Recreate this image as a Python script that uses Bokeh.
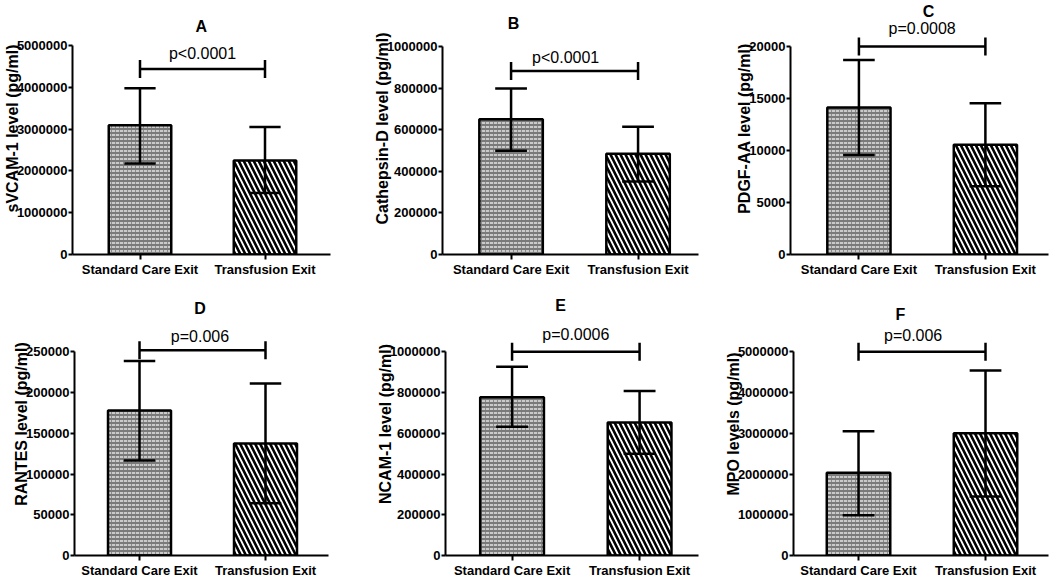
import math
from bokeh.plotting import figure
from bokeh.layouts import column, row
from bokeh.models import FixedTicker, BasicTickFormatter, Label, Range1d
from bokeh.embed import file_html
from bokeh.resources import INLINE

# ---------------- data ----------------
groups = ["Standard Care Exit", "Transfusion Exit"]
panel_letters = ["A", "B", "C", "D", "E", "F"]
y_labels = ["sVCAM-1 level (pg/ml)", "Cathepsin-D level (pg/ml)", "PDGF-AA level (pg/ml)",
            "RANTES level (pg/ml)", "NCAM-1 level (pg/ml)", "MPO levels (pg/ml)"]
p_values = ["p<0.0001", "p<0.0001", "p=0.0008", "p=0.006", "p=0.0006", "p=0.006"]

svcam_mean = [3090000, 2250000]
svcam_upper = [3980000, 3050000]
svcam_lower = [2180000, 1470000]
svcam_ticks = [0, 1000000, 2000000, 3000000, 4000000, 5000000]

cathepsin_mean = [651000, 484000]
cathepsin_upper = [798000, 614000]
cathepsin_lower = [499000, 351000]
cathepsin_ticks = [0, 200000, 400000, 600000, 800000, 1000000]

pdgf_mean = [14150, 10560]
pdgf_upper = [18720, 14560]
pdgf_lower = [9570, 6560]
pdgf_ticks = [0, 5000, 10000, 15000, 20000]

rantes_mean = [178000, 137400]
rantes_upper = [238600, 211000]
rantes_lower = [116700, 64200]
rantes_ticks = [0, 50000, 100000, 150000, 200000, 250000]

ncam_mean = [777000, 653000]
ncam_upper = [927000, 808000]
ncam_lower = [632000, 500000]
ncam_ticks = [0, 200000, 400000, 600000, 800000, 1000000]

mpo_mean = [2030000, 3000000]
mpo_upper = [3050000, 4540000]
mpo_lower = [985000, 1450000]
mpo_ticks = [0, 1000000, 2000000, 3000000, 4000000, 5000000]

bracket_y = [4440000, 883000, 20000, 252000, 1000000, 5000000]

# annotation positions (data units)
title_x = [1.49, 1.02, 1.55, 1.48, 1.38, 1.33]
title_y = [5455000, 1110000, 23400, 303700, 1228000, 5920000]
ptext_x = [1.5, 1.43, 1.5, 1.48, 1.5, 1.43]
ptext_y = [4810000, 947000, 21730, 268300, 1087000, 5410000]

FONT = "Liberation Sans"


def make_panel(i, mean, upper, lower, yticks, width, height, bl, br, bb, xr, yfactor):
    top = yticks[-1]
    p = figure(width=width, height=height, output_backend="svg", toolbar_location=None,
               x_range=Range1d(*xr), y_range=Range1d(0, top * yfactor),
               min_border_left=bl, min_border_right=br, min_border_top=2, min_border_bottom=bb)
    p.grid.visible = False
    p.outline_line_color = None
    p.background_fill_color = "white"
    p.border_fill_color = "white"

    xs = [1, 2]
    # bars
    p.vbar(x=[xs[0]], top=[mean[0]], width=0.5, fill_color="#7a7a7a",
           hatch_pattern="horizontal_dash", hatch_color="#ececec", hatch_scale=4, hatch_weight=1.4,
           line_color="black", line_width=2.5)
    p.vbar(x=[xs[1]], top=[mean[1]], width=0.5, fill_color="white",
           hatch_pattern="left_diagonal_line", hatch_color="black", hatch_scale=10, hatch_weight=2.6,
           line_color="black", line_width=2.5)
    # error bars
    p.segment(x0=xs, y0=lower, x1=xs, y1=upper, line_color="black", line_width=2.5)
    cx0 = [x - 0.125 for x in xs]
    cx1 = [x + 0.125 for x in xs]
    p.segment(x0=cx0, y0=upper, x1=cx1, y1=upper, line_color="black", line_width=2.5)
    p.segment(x0=cx0, y0=lower, x1=cx1, y1=lower, line_color="black", line_width=2.5)
    # significance bracket
    by = bracket_y[i]
    p.segment(x0=[xs[0]], y0=[by], x1=[xs[1]], y1=[by], line_color="black", line_width=2.5)
    p.scatter(x=xs, y=[by, by], marker="dash", angle=math.pi / 2, size=18,
              line_color="black", line_width=2.5)

    p.add_layout(Label(x=ptext_x[i], y=ptext_y[i], text=p_values[i], text_align="center",
                       text_baseline="middle", text_font=FONT, text_font_size="16px",
                       text_color="black"))
    p.add_layout(Label(x=title_x[i], y=title_y[i], text=panel_letters[i], text_align="center",
                       text_baseline="middle", text_font=FONT, text_font_size="16px",
                       text_font_style="bold", text_color="black"))

    # axes
    p.xaxis.ticker = FixedTicker(ticks=xs)
    p.xaxis.major_label_overrides = {1: groups[0], 2: groups[1]}
    p.xaxis.major_label_standoff = 2
    p.yaxis.ticker = FixedTicker(ticks=yticks)
    p.yaxis.formatter = BasicTickFormatter(use_scientific=False)
    p.yaxis.bounds = (0, top)
    p.yaxis.major_label_standoff = 1
    p.yaxis.axis_label = y_labels[i]
    p.yaxis.axis_label_text_font = FONT
    p.yaxis.axis_label_text_font_size = "16px"
    p.yaxis.axis_label_text_font_style = "bold"
    p.yaxis.axis_label_text_color = "black"
    p.yaxis.axis_label_standoff = -7
    for ax in (p.xaxis[0], p.yaxis[0]):
        ax.axis_line_width = 2
        ax.axis_line_color = "black"
        ax.major_tick_line_width = 2
        ax.major_tick_line_color = "black"
        ax.major_tick_out = 4
        ax.major_tick_in = 0
        ax.minor_tick_line_color = None
        ax.major_label_text_font = FONT
        ax.major_label_text_font_style = "bold"
        ax.major_label_text_font_size = "13px"
        ax.major_label_text_color = "black"
    p.xaxis.major_tick_out = 5
    return p


pA = make_panel(0, svcam_mean, svcam_upper, svcam_lower, svcam_ticks, 350, 290, 70, 20, 36, (0.46, 2.524), 1.206)
pB = make_panel(1, cathepsin_mean, cathepsin_upper, cathepsin_lower, cathepsin_ticks, 350, 290, 92, 2, 36, (0.46, 2.476), 1.212)
pC = make_panel(2, pdgf_mean, pdgf_upper, pdgf_lower, pdgf_ticks, 350, 290, 90, 2, 36, (0.459, 2.499), 1.212)
pD = make_panel(3, rantes_mean, rantes_upper, rantes_lower, rantes_ticks, 350, 290, 74, 22, 22, (0.484, 2.5), 1.291)
pE = make_panel(4, ncam_mean, ncam_upper, ncam_lower, ncam_ticks, 350, 290, 95, 2, 22, (0.478, 2.462), 1.291)
pF = make_panel(5, mpo_mean, mpo_upper, mpo_lower, mpo_ticks, 350, 290, 93, 2, 22, (0.488, 2.496), 1.291)

layout = column(row(pA, pB, pC), row(pD, pE, pF))
open("out.html", "w").write(file_html(layout, INLINE))
